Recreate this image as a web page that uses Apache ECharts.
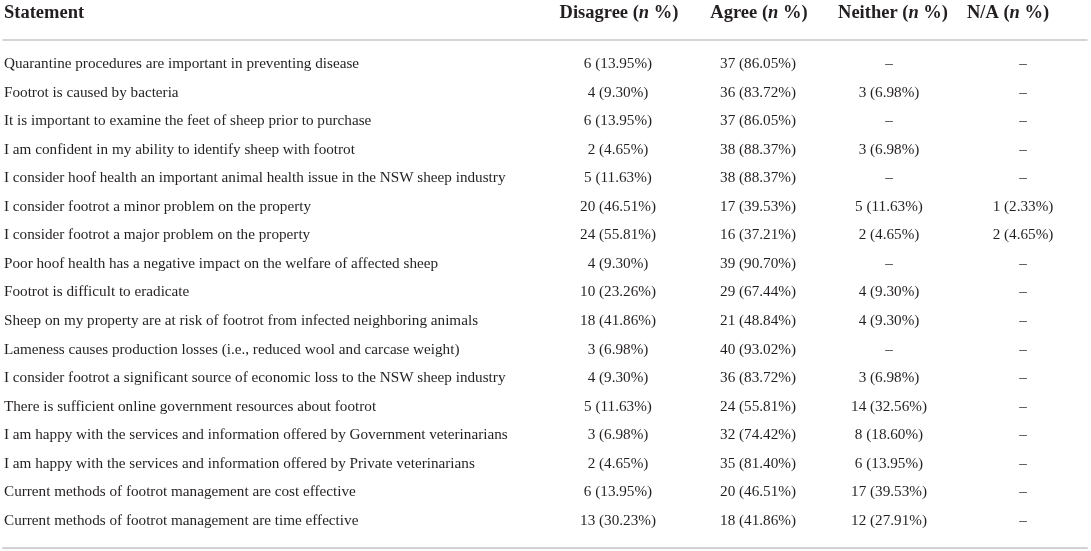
<!DOCTYPE html>
<html>
<head>
<meta charset="utf-8">
<style>
    html, body {margin: 0; padding: 0; background: #fff;}
    #main {width: 1091px; height: 551px;}
</style>
<script src="https://cdn.jsdelivr.net/npm/echarts@6/dist/echarts.min.js"></script>
</head>
<body>
<div id="main"></div>
<script>
    // 表格数据
    var statements = [
        'Quarantine procedures are important in preventing disease',
        'Footrot is caused by bacteria',
        'It is important to examine the feet of sheep prior to purchase',
        'I am confident in my ability to identify sheep with footrot',
        'I consider hoof health an important animal health issue in the NSW sheep industry',
        'I consider footrot a minor problem on the property',
        'I consider footrot a major problem on the property',
        'Poor hoof health has a negative impact on the welfare of affected sheep',
        'Footrot is difficult to eradicate',
        'Sheep on my property are at risk of footrot from infected neighboring animals',
        'Lameness causes production losses (i.e., reduced wool and carcase weight)',
        'I consider footrot a significant source of economic loss to the NSW sheep industry',
        'There is sufficient online government resources about footrot',
        'I am happy with the services and information offered by Government veterinarians',
        'I am happy with the services and information offered by Private veterinarians',
        'Current methods of footrot management are cost effective',
        'Current methods of footrot management are time effective'
    ];
    var headers = ['Statement', 'Disagree', 'Agree', 'Neither', 'N/A'];
    var disagreeN   = [6, 4, 6, 2, 5, 20, 24, 4, 10, 18, 3, 4, 5, 3, 2, 6, 13];
    var disagreePct = [13.95, 9.30, 13.95, 4.65, 11.63, 46.51, 55.81, 9.30, 23.26, 41.86, 6.98, 9.30, 11.63, 6.98, 4.65, 13.95, 30.23];
    var agreeN      = [37, 36, 37, 38, 38, 17, 16, 39, 29, 21, 40, 36, 24, 32, 35, 20, 18];
    var agreePct    = [86.05, 83.72, 86.05, 88.37, 88.37, 39.53, 37.21, 90.70, 67.44, 48.84, 93.02, 83.72, 55.81, 74.42, 81.40, 46.51, 41.86];
    var neitherN    = [null, 3, null, 3, null, 5, 2, null, 4, 4, null, 3, 14, 8, 6, 17, 12];
    var neitherPct  = [null, 6.98, null, 6.98, null, 11.63, 4.65, null, 9.30, 9.30, null, 6.98, 32.56, 18.60, 13.95, 39.53, 27.91];
    var naN         = [null, null, null, null, null, 1, 2, null, null, null, null, null, null, null, null, null, null];
    var naPct       = [null, null, null, null, null, 2.33, 4.65, null, null, null, null, null, null, null, null, null, null];

    var FONT = '"Liberation Serif", "DejaVu Serif", serif';
    var INK = '#231f20';
    var BODY_SIZE = 15.2;
    var HEAD_SIZE = 18.5;

    // 列位置（像素）
    var colX = [4, 618, 758, 889, 1023];
    var headX = [4, 619, 759, 893, 1008];

    function cell(n, p) {
        if (n === null) return '\u2013';
        return n + ' (' + p.toFixed(2) + '%)';
    }

    function colSeries(x, nArr, pArr) {
        var data = [];
        for (var i = 0; i < nArr.length; i++) {
            data.push({value: [x, i], text: cell(nArr[i], pArr[i])});
        }
        return {
            type: 'scatter',
            xAxisIndex: 0,
            yAxisIndex: 0,
            symbolSize: 0,
            silent: true,
            itemStyle: {opacity: 1},
            data: data,
            label: {
                show: true,
                position: 'inside',
                color: INK,
                fontFamily: FONT,
                fontSize: BODY_SIZE,
                formatter: function (p) { return p.data.text; }
            }
        };
    }

    var stmtData = [];
    for (var i = 0; i < statements.length; i++) {
        stmtData.push({value: [colX[0], i], text: statements[i]});
    }

    var headData = [];
    for (var j = 0; j < headers.length; j++) {
        var t = j === 0 ? '{b|' + headers[j] + '}' : '{b|' + headers[j] + ' (}{i|n}{b| %)}';
        headData.push({value: [headX[j], 0], text: t, pos: j === 0 ? 'right' : 'inside'});
    }

    var noAxis = {show: false};
    var option = {
        animation: false,
        backgroundColor: '#fff',
        grid: [
            {left: 3, right: 4, top: 39.5, bottom: 3.5},
            {left: 3, right: 4, top: 0, height: 27}
        ],
        xAxis: [
            {gridIndex: 0, type: 'value', min: 3, max: 1087, position: 'bottom',
                axisLine: {show: true, onZero: false, lineStyle: {color: '#d2d2d2', width: 2}},
                axisTick: noAxis, axisLabel: noAxis, splitLine: noAxis},
            {gridIndex: 0, type: 'value', min: 3, max: 1087, position: 'top',
                axisLine: {show: true, onZero: false, lineStyle: {color: '#c8c8c8', width: 1.5}},
                axisTick: noAxis, axisLabel: noAxis, splitLine: noAxis},
            {gridIndex: 1, type: 'value', min: 3, max: 1087, show: false}
        ],
        yAxis: [
            {gridIndex: 0, type: 'value', inverse: true, min: -0.858, max: 16.928, show: false},
            {gridIndex: 1, type: 'category', data: ['header'], show: false}
        ],
        series: [
            {
                type: 'scatter',
                xAxisIndex: 0,
                yAxisIndex: 0,
                symbolSize: 0,
                silent: true,
                itemStyle: {opacity: 1},
                data: stmtData,
                label: {
                    show: true,
                    position: 'right',
                    distance: 0,
                    color: INK,
                    fontFamily: FONT,
                    fontSize: BODY_SIZE,
                    formatter: function (p) { return p.data.text; }
                }
            },
            colSeries(colX[1], disagreeN, disagreePct),
            colSeries(colX[2], agreeN, agreePct),
            colSeries(colX[3], neitherN, neitherPct),
            colSeries(colX[4], naN, naPct),
            {
                type: 'scatter',
                xAxisIndex: 2,
                yAxisIndex: 1,
                symbolSize: 0,
                silent: true,
                itemStyle: {opacity: 1},
                data: headData.map(function (d) {
                    return {
                        value: d.value,
                        label: {position: d.pos, distance: 0},
                        text: d.text
                    };
                }),
                label: {
                    show: true,
                    color: INK,
                    formatter: function (p) { return p.data.text; },
                    rich: {
                        b: {fontFamily: FONT, fontSize: HEAD_SIZE, fontWeight: 'bold', color: INK},
                        i: {fontFamily: FONT, fontSize: HEAD_SIZE, fontWeight: 'bold', fontStyle: 'italic', color: INK}
                    }
                }
            }
        ]
    };

    var chart = echarts.init(document.getElementById('main'));
    chart.setOption(option);
</script>
</body>
</html>
